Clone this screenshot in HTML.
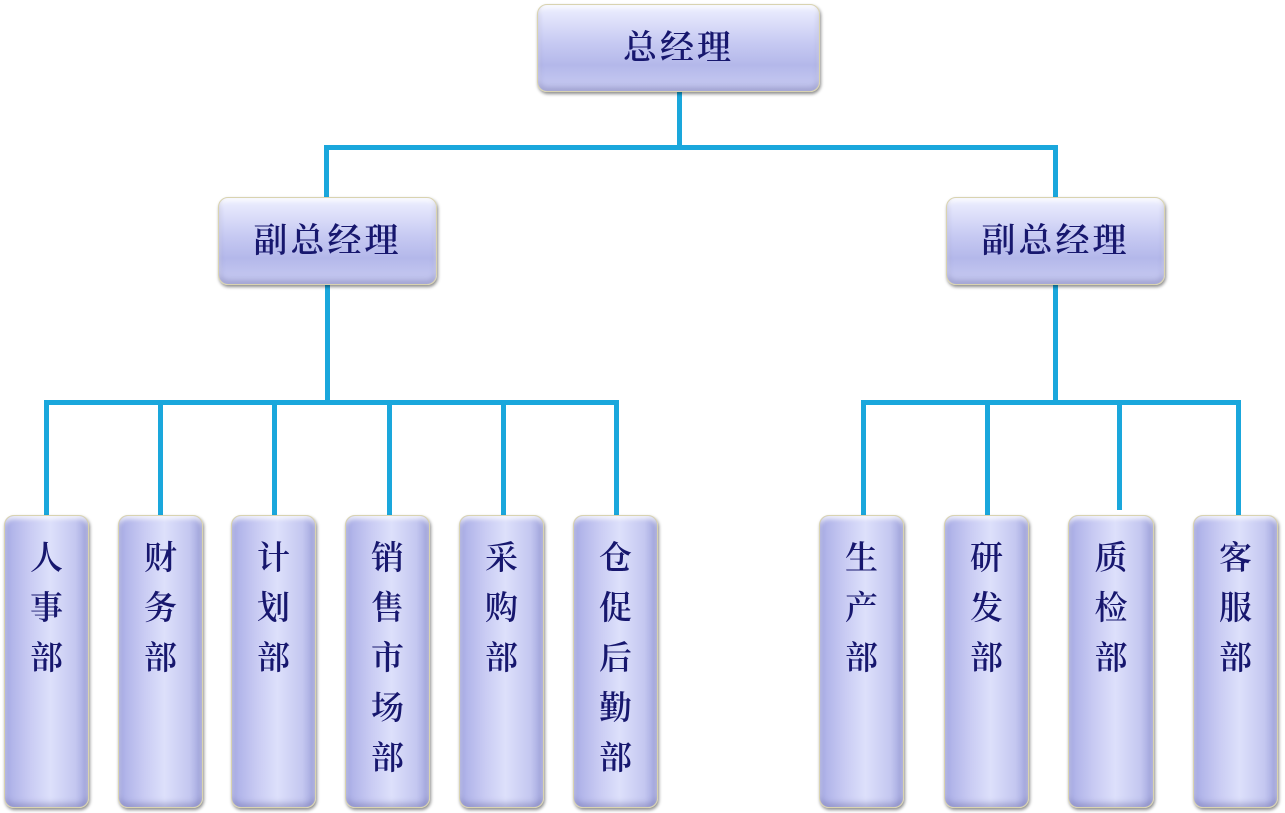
<!DOCTYPE html>
<html><head><meta charset="utf-8"><style>
body{margin:0;width:1285px;height:813px;background:#fff;position:relative;overflow:hidden;font-family:"Liberation Serif","Noto Serif CJK SC",serif;}
.b{position:absolute;border-radius:10px;box-sizing:border-box;border:1.5px solid #d9d3b0;
background:linear-gradient(180deg,#eef0ff 0%,#c6c9f2 45%,#b4b8ea 70%,#c9ccf2 100%);
box-shadow:1px 2px 3px rgba(0,0,0,.45), inset 0 -4px 6px rgba(90,90,150,.35), inset 0 3px 4px rgba(255,255,255,.8);
color:#17176e;text-align:center;font-weight:600;}
.h{font-size:34px;display:flex;align-items:center;justify-content:center;letter-spacing:3px;padding-bottom:8px}
.v{font-size:33px;line-height:50px;padding-top:18px;
background:linear-gradient(90deg,#a9ade6 0%,#c9cbf3 30%,#dde0fb 55%,#c4c7f0 85%,#9fa3dc 100%);}
.l{position:absolute;background:#1aa7dc;}
</style></head><body>
<div class="l" style="left:677px;top:90px;width:5px;height:60px"></div>
<div class="l" style="left:324px;top:145px;width:734px;height:5px"></div>
<div class="l" style="left:324px;top:145px;width:5px;height:55px"></div>
<div class="l" style="left:1053px;top:145px;width:5px;height:55px"></div>
<div class="l" style="left:325px;top:283px;width:5px;height:121px"></div>
<div class="l" style="left:44px;top:400px;width:575px;height:5px"></div>
<div class="l" style="left:44px;top:400px;width:5px;height:118px"></div>
<div class="l" style="left:158px;top:400px;width:5px;height:118px"></div>
<div class="l" style="left:272px;top:400px;width:5px;height:118px"></div>
<div class="l" style="left:387px;top:400px;width:5px;height:118px"></div>
<div class="l" style="left:501px;top:400px;width:5px;height:118px"></div>
<div class="l" style="left:614px;top:400px;width:5px;height:118px"></div>
<div class="l" style="left:1053px;top:283px;width:5px;height:121px"></div>
<div class="l" style="left:861px;top:400px;width:380px;height:5px"></div>
<div class="l" style="left:861px;top:400px;width:5px;height:118px"></div>
<div class="l" style="left:985px;top:400px;width:5px;height:118px"></div>
<div class="l" style="left:1117px;top:400px;width:5px;height:110px"></div>
<div class="l" style="left:1236px;top:400px;width:5px;height:118px"></div>

<div class="b h" style="left:537px;top:4px;width:283px;height:88px">总经理</div>
<div class="b h" style="left:218px;top:197px;width:219px;height:88px">副总经理</div>
<div class="b h" style="left:946px;top:197px;width:219px;height:88px">副总经理</div>

<div class="b v" style="left:4px;top:515px;width:85px;height:293px">人<br>事<br>部</div>
<div class="b v" style="left:118px;top:515px;width:85px;height:293px">财<br>务<br>部</div>
<div class="b v" style="left:231px;top:515px;width:85px;height:293px">计<br>划<br>部</div>
<div class="b v" style="left:345px;top:515px;width:85px;height:293px">销<br>售<br>市<br>场<br>部</div>
<div class="b v" style="left:459px;top:515px;width:85px;height:293px">采<br>购<br>部</div>
<div class="b v" style="left:573px;top:515px;width:85px;height:293px">仓<br>促<br>后<br>勤<br>部</div>
<div class="b v" style="left:819px;top:515px;width:85px;height:293px">生<br>产<br>部</div>
<div class="b v" style="left:944px;top:515px;width:85px;height:293px">研<br>发<br>部</div>
<div class="b v" style="left:1068px;top:515px;width:86px;height:293px">质<br>检<br>部</div>
<div class="b v" style="left:1193px;top:515px;width:85px;height:293px">客<br>服<br>部</div>
</body></html>
